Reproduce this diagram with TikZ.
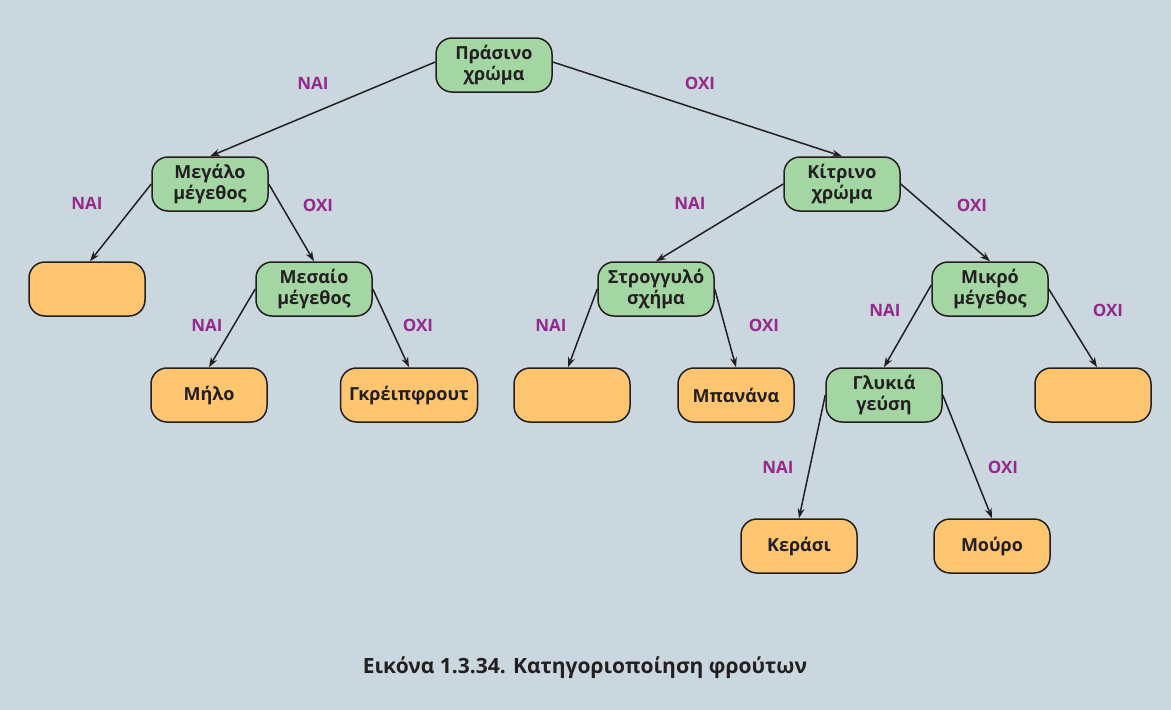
\documentclass[tikz,border=0pt]{standalone}
\usepackage{fontspec}
\setmainfont{Open Sans}
\usetikzlibrary{arrows.meta}
\definecolor{bg}{HTML}{CAD7DF}
\definecolor{gfill}{HTML}{A3D6A3}
\definecolor{ofill}{HTML}{FDC570}
\definecolor{lbl}{HTML}{94288C}
\definecolor{ink}{HTML}{231F20}
\tikzset{
  box/.style={draw=ink, line width=1.5pt, rounded corners=16pt, minimum width=116pt, minimum height=54pt,
    inner sep=0pt, align=center, text=ink, font=\fontsize{18}{21.5}\selectfont\bfseries},
  qbox/.style={box, fill=gfill},
  leaf/.style={box, fill=ofill},
  lab/.style={text=lbl, font=\fontsize{17}{19}\selectfont\bfseries},
  edge/.style={draw=ink, line width=1.5pt, -{Stealth[length=10pt,width=7pt]}}
}
\begin{document}
\begin{tikzpicture}[x=1pt,y=-1pt]
\fill[bg] (0,0) rectangle (1171,710);
\useasboundingbox (0,0) rectangle (1171,710);
\node[qbox] (root) at (494,65) {Πράσινο\\χρώμα};
\node[qbox] (big) at (210,184) {Μεγάλο\\μέγεθος};
\node[leaf] (e1) at (87,289) {};
\node[qbox] (mid) at (314,289) {Μεσαίο\\μέγεθος};
\node[leaf] (apple) at (209,395) {Μήλο};
\node[leaf, minimum width=137pt] (grape) at (409,395) {Γκρέιπφρουτ};
\node[qbox] (yellow) at (842,184) {Κίτρινο\\χρώμα};
\node[qbox] (round) at (656,289) {Στρογγυλό\\σχήμα};
\node[qbox] (small) at (990,289) {Μικρό\\μέγεθος};
\node[leaf] (e2) at (572,395) {};
\node[leaf] (banana) at (736,395) {Μπανάνα};
\node[qbox] (sweet) at (884,395) {Γλυκιά\\γεύση};
\node[leaf] (e3) at (1093,395) {};
\node[leaf] (cherry) at (799,546) {Κεράσι};
\node[leaf] (berry) at (992,546) {Μούρο};

\draw[edge] ([yshift=3pt]root.west) -- (big.north);
\draw[edge] ([yshift=3pt]root.east) -- (yellow.north);
\draw[edge] (big.west) -- ([xshift=3pt]e1.north);
\draw[edge] (big.east) -- (mid.north);
\draw[edge] (mid.west) -- (apple.north);
\draw[edge] (mid.east) -- (grape.north);
\draw[edge] (yellow.west) -- (round.north);
\draw[edge] (yellow.east) -- (small.north);
\draw[edge] (round.west) -- ([xshift=-4pt]e2.north);
\draw[edge] (round.east) -- (banana.north);
\draw[edge] ([yshift=4pt]small.west) -- (sweet.north);
\draw[edge] (small.east) -- ([xshift=4pt]e3.north);
\draw[edge] (sweet.west) -- (cherry.north);
\draw[edge] (sweet.east) -- (berry.north);

\node[lab] (l1) at (313,83) {ΝΑΙ};
\node[lab] (l2) at (700,83) {ΟΧΙ};
\node[lab] (l3) at (87,203) {ΝΑΙ};
\node[lab] (l4) at (318,205) {ΟΧΙ};
\node[lab] (l5) at (207,325) {ΝΑΙ};
\node[lab] (l6) at (418,325) {ΟΧΙ};
\node[lab] (l7) at (690,203) {ΝΑΙ};
\node[lab] (l8) at (972,205) {ΟΧΙ};
\node[lab] (l9) at (551,325) {ΝΑΙ};
\node[lab] (l10) at (764,325) {ΟΧΙ};
\node[lab] (l11) at (885,310) {ΝΑΙ};
\node[lab] (l12) at (1108,310) {ΟΧΙ};
\node[lab] (l13) at (778,467) {ΝΑΙ};
\node[lab] (l14) at (1003,467) {ΟΧΙ};
\node[text=ink, font=\fontsize{21}{24}\selectfont\bfseries] (cap) at (585,668) {Εικόνα 1.3.34. Κατηγοριοποίηση φρούτων};
\end{tikzpicture}
\end{document}
